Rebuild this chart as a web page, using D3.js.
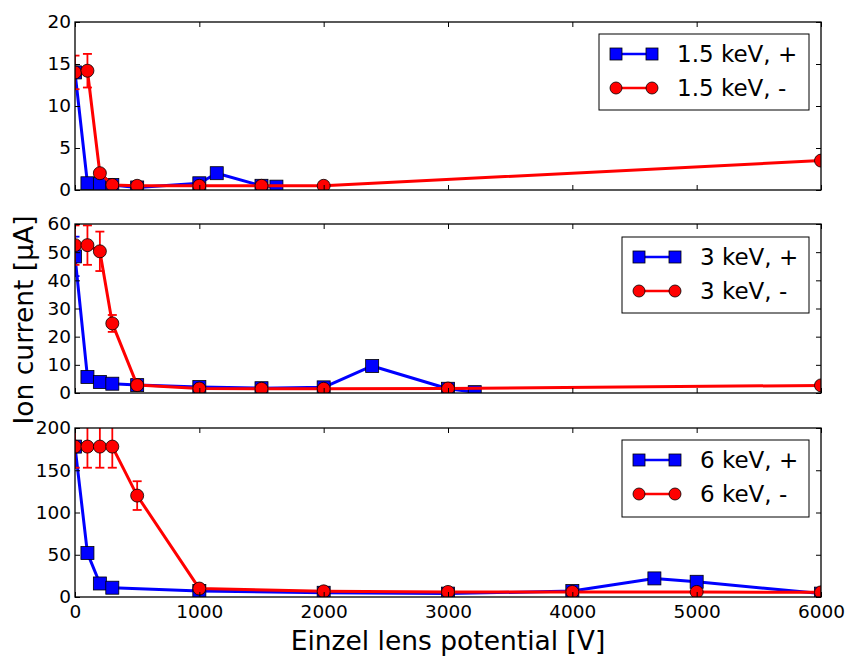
<!DOCTYPE html>
<html><head><meta charset="utf-8">
<script src="https://cdn.jsdelivr.net/npm/d3@7"></script>
<style>body{margin:0;background:#fff;} text{font-family:"DejaVu Sans",sans-serif;fill:#000;}</style>
</head><body>
<svg id="chart" width="850" height="660"></svg>
<script>
// ---- data ----
const xTicks = [0, 1000, 2000, 3000, 4000, 5000, 6000];

const p1BlueX = [0, 100, 200, 300, 500, 1000, 1140, 1500, 1620];
const p1BlueY = [14, 0.8, 0.7, 0.6, 0.3, 0.8, 2.0, 0.5, 0.4];
const p1BlueErr = [0, 0, 0, 0, 0, 0, 0, 0, 0];
const p1RedX = [0, 100, 200, 300, 500, 1000, 1500, 2000, 6000];
const p1RedY = [14, 14.2, 2.0, 0.6, 0.5, 0.5, 0.5, 0.5, 3.5];
const p1RedErr = [2, 2, 0, 0, 0, 0, 0, 0, 0];

const p2BlueX = [0, 100, 200, 300, 500, 1000, 1500, 2000, 2390, 3000, 3215];
const p2BlueY = [48.5, 5.7, 3.9, 3.3, 2.8, 2.1, 1.7, 2.0, 9.6, 1.5, 0.3];
const p2BlueErr = [7, 0, 0, 0, 0, 0, 0, 0, 0, 0, 0];
const p2RedX = [0, 100, 200, 300, 500, 1000, 1500, 2000, 3000, 6000];
const p2RedY = [52.5, 52.5, 50.3, 24.7, 2.8, 1.6, 1.5, 1.5, 1.6, 2.7];
const p2RedErr = [7, 7, 7, 3, 0, 0, 0, 0, 0, 0];

const p3BlueX = [0, 100, 200, 300, 1000, 2000, 3000, 4000, 4660, 5000, 6000];
const p3BlueY = [178, 52, 16, 11, 7, 5, 4, 7, 22, 18, 4];
const p3BlueErr = [25, 0, 0, 0, 0, 0, 0, 0, 0, 0, 0];
const p3RedX = [0, 100, 200, 300, 500, 1000, 2000, 3000, 4000, 5000, 6000];
const p3RedY = [178, 178, 178, 178, 120, 10, 6.7, 6, 6, 6, 5.5];
const p3RedErr = [25, 25, 25, 25, 17, 0, 0, 0, 0, 0, 0];

const panels = [
  {top: 22, bottom: 190, yMax: 20, yTicks: [0, 5, 10, 15, 20],
   legend: ["1.5 keV, +", "1.5 keV, -"], legBox: [599, 34, 809, 110],
   blue: [p1BlueX, p1BlueY, p1BlueErr], red: [p1RedX, p1RedY, p1RedErr]},
  {top: 224, bottom: 393, yMax: 60, yTicks: [0, 10, 20, 30, 40, 50, 60],
   legend: ["3 keV, +", "3 keV, -"], legBox: [622, 237, 809, 313],
   blue: [p2BlueX, p2BlueY, p2BlueErr], red: [p2RedX, p2RedY, p2RedErr]},
  {top: 428, bottom: 597, yMax: 200, yTicks: [0, 50, 100, 150, 200],
   legend: ["6 keV, +", "6 keV, -"], legBox: [622, 440, 809, 517],
   blue: [p3BlueX, p3BlueY, p3BlueErr], red: [p3RedX, p3RedY, p3RedErr]}
];

const svg = d3.select("#chart");
const L = 75, R = 821;
const x = d3.scaleLinear().domain([0, 6000]).range([L, R]);
const BLUE = "#0000ff", RED = "#ff0000";

function drawSeries(g, y, xs, ys, errs, color, shape) {
  const pts = xs.map((v, i) => ({x: v, y: ys[i], e: errs[i]}));
  pts.filter(p => p.e > 0).forEach(p => {
    const cx = x(p.x), y1 = y(p.y + p.e), y2 = y(p.y - p.e);
    g.append("line").attr("x1", cx).attr("x2", cx).attr("y1", y1).attr("y2", y2)
      .attr("stroke", color).attr("stroke-width", 1.8);
    [y1, y2].forEach(yy => g.append("line").attr("x1", cx - 4.5).attr("x2", cx + 4.5)
      .attr("y1", yy).attr("y2", yy).attr("stroke", color).attr("stroke-width", 1.8));
  });
  g.append("path").datum(pts)
    .attr("d", d3.line().x(d => x(d.x)).y(d => y(d.y)))
    .attr("fill", "none").attr("stroke", color).attr("stroke-width", 3)
    .attr("stroke-linejoin", "round");
  pts.forEach(p => drawMarker(g, x(p.x), y(p.y), color, shape, 6.5));
}

function drawMarker(g, cx, cy, color, shape, r) {
  if (shape === "square") {
    g.append("rect").attr("x", cx - r).attr("y", cy - r).attr("width", 2 * r).attr("height", 2 * r)
      .attr("fill", color).attr("stroke", "#000").attr("stroke-width", 0.8);
  } else {
    g.append("circle").attr("cx", cx).attr("cy", cy).attr("r", r)
      .attr("fill", color).attr("stroke", "#000").attr("stroke-width", 0.8);
  }
}

panels.forEach((p, i) => {
  const y = d3.scaleLinear().domain([0, p.yMax]).range([p.bottom, p.top]);
  const clipId = "clip" + i;
  svg.append("clipPath").attr("id", clipId).append("rect")
    .attr("x", L).attr("y", p.top).attr("width", R - L).attr("height", p.bottom - p.top);
  const g = svg.append("g").attr("clip-path", `url(#${clipId})`);
  drawSeries(g, y, p.blue[0], p.blue[1], p.blue[2], BLUE, "square");
  drawSeries(g, y, p.red[0], p.red[1], p.red[2], RED, "circle");

  const tickSize = 5;
  const ax = svg.append("g");
  const yLeft = d3.axisLeft(y).tickValues(p.yTicks).tickSize(-tickSize).tickPadding(4).tickFormat(d3.format("d"));
  const yRight = d3.axisRight(y).tickValues(p.yTicks).tickSize(-tickSize).tickFormat("");
  const xBot = d3.axisBottom(x).tickValues(xTicks).tickSize(-tickSize).tickPadding(8).tickFormat(i === 2 ? d3.format("d") : "");
  const xTop = d3.axisTop(x).tickValues(xTicks).tickSize(-tickSize).tickFormat("");
  [[yLeft, `translate(${L},0)`], [yRight, `translate(${R},0)`],
   [xBot, `translate(0,${p.bottom})`], [xTop, `translate(0,${p.top})`]].forEach(([a, t]) => {
    const ag = ax.append("g").attr("transform", t).call(a);
    ag.select(".domain").remove();
    ag.selectAll(".tick line").attr("stroke", "#000").attr("stroke-width", 1);
    ag.selectAll(".tick text").style("font-family", "DejaVu Sans").style("font-size", "18.5px").attr("fill", "#000");
  });
  svg.append("rect").attr("x", L).attr("y", p.top).attr("width", R - L).attr("height", p.bottom - p.top)
    .attr("fill", "none").attr("stroke", "#000").attr("stroke-width", 1.3);

  const [bx0, by0, bx1, by1] = p.legBox;
  svg.append("rect").attr("x", bx0).attr("y", by0).attr("width", bx1 - bx0).attr("height", by1 - by0)
    .attr("fill", "#fff").attr("stroke", "#000").attr("stroke-width", 1);
  const rows = [[BLUE, "square"], [RED, "circle"]];
  rows.forEach(([c, s], k) => {
    const ry = by0 + 20 + k * 34;
    const lx0 = bx0 + 17, lx1 = bx0 + 53;
    svg.append("line").attr("x1", lx0).attr("x2", lx1).attr("y1", ry).attr("y2", ry)
      .attr("stroke", c).attr("stroke-width", 2.6);
    drawMarker(svg, lx0, ry, c, s, 6);
    drawMarker(svg, lx1, ry, c, s, 6);
    svg.append("text").attr("x", bx0 + 78).attr("y", ry).attr("dy", "0.35em")
      .style("font-size", "23px").text(p.legend[k]);
  });
});

svg.append("text").attr("x", (L + R) / 2).attr("y", 650).attr("text-anchor", "middle")
  .style("font-size", "26.5px").text("Einzel lens potential [V]");
svg.append("text").attr("transform", "translate(33,320) rotate(-90)").attr("text-anchor", "middle")
  .style("font-size", "26.5px").text("Ion current [μA]");
</script>
</body></html>
